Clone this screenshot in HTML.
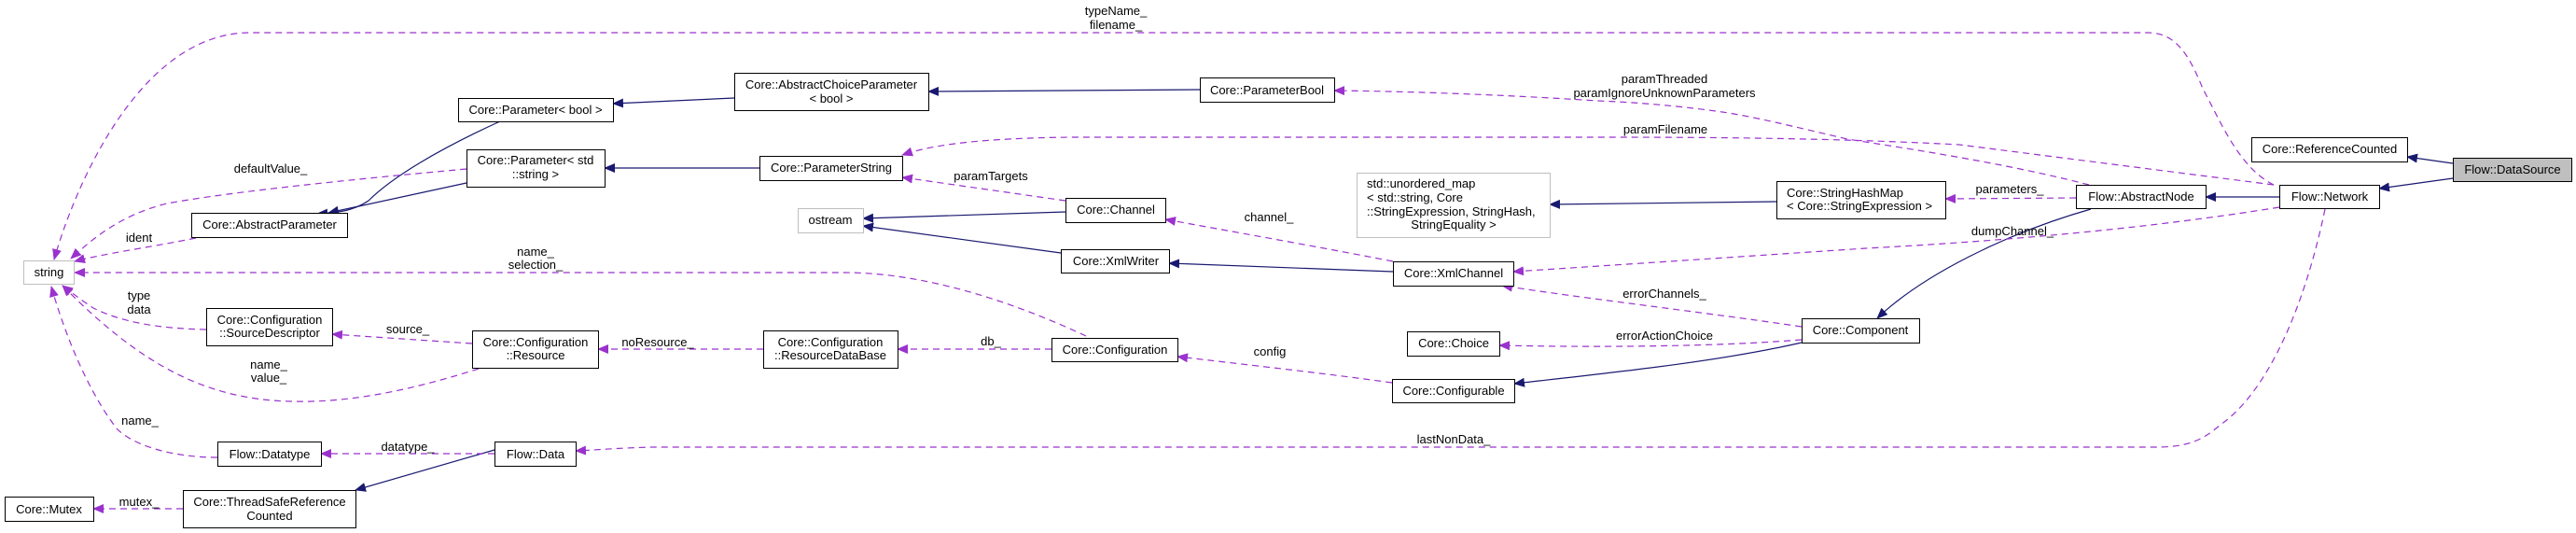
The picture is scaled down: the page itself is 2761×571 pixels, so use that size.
<!DOCTYPE html>
<html><head><meta charset="utf-8"><style>
html,body{margin:0;padding:0;background:#fff;}
svg{display:block;}
text{font-family:"Liberation Sans",sans-serif;font-size:13px;fill:#000;}
.b{fill:#fff;stroke:#000;stroke-width:1;}
.g{fill:#fff;stroke:#bfbfbf;stroke-width:1;}
.s{fill:none;stroke:#191970;stroke-width:1.2;}
.d{fill:none;stroke:#9a32cd;stroke-width:1.2;stroke-dasharray:7,5;}
</style></head><body>
<svg width="2761" height="571" viewBox="0 0 2761 571" xmlns="http://www.w3.org/2000/svg">
<defs>
<marker id="ms" markerWidth="12" markerHeight="10" refX="11" refY="5" orient="auto" markerUnits="userSpaceOnUse"><path d="M0,0 L12,5 L0,10 z" fill="#191970"/></marker>
<marker id="md" markerWidth="12" markerHeight="10" refX="11" refY="5" orient="auto" markerUnits="userSpaceOnUse"><path d="M0,0 L12,5 L0,10 z" fill="#9a32cd"/></marker>
</defs>

<!-- solid inheritance edges -->
<g class="s">
<path d="M536,130 C470,160 420,190 395,215 C380,225 365,228 340,229" marker-end="url(#ms)"/>
<path d="M500,196 L352,228" marker-end="url(#ms)"/>
<path d="M787,105 L657,111" marker-end="url(#ms)"/>
<path d="M1286,96 L995,98" marker-end="url(#ms)"/>
<path d="M814,180 L648,180" marker-end="url(#ms)"/>
<path d="M1142,227 L925,234" marker-end="url(#ms)"/>
<path d="M1137,271 L925,242" marker-end="url(#ms)"/>
<path d="M1493,291 L1253,282" marker-end="url(#ms)"/>
<path d="M1904,216 L1661,219" marker-end="url(#ms)"/>
<path d="M1931,367 C1840,388 1720,400 1623,411" marker-end="url(#ms)"/>
<path d="M2241,224 C2150,250 2060,295 2012,341" marker-end="url(#ms)"/>
<path d="M2443,211 L2364,211" marker-end="url(#ms)"/>
<path d="M2629,175 L2580,168" marker-end="url(#ms)"/>
<path d="M2629,191 L2550,202" marker-end="url(#ms)"/>
<path d="M530,482 L381,525" marker-end="url(#ms)"/>
</g>

<!-- dashed usage edges -->
<g class="d">
<path d="M500,181 C380,192 250,205 179,218 C130,230 100,255 76,277" marker-end="url(#md)"/>
<path d="M210,255 C160,265 110,272 80,280" marker-end="url(#md)"/>
<path d="M1164,360 C1100,330 1000,292 905,292 L80,292" marker-end="url(#md)"/>
<path d="M2437,198 C2400,180 2380,130 2361,95 C2345,55 2330,35 2302,35 L268,35 C150,35 80,200 58,278" marker-end="url(#md)"/>
<path d="M221,353 C170,352 130,345 100,330 C85,320 75,312 67,306" marker-end="url(#md)"/>
<path d="M513,395 C450,415 380,432 312,430 C220,428 150,390 67,306" marker-end="url(#md)"/>
<path d="M233,490 C180,490 140,475 125,459 C95,420 70,360 55,307" marker-end="url(#md)"/>
<path d="M506,368 L356,358" marker-end="url(#md)"/>
<path d="M818,374 L641,374" marker-end="url(#md)"/>
<path d="M1127,374 L962,374" marker-end="url(#md)"/>
<path d="M530,486 L344,486" marker-end="url(#md)"/>
<path d="M196,545 L100,545" marker-end="url(#md)"/>
<path d="M1142,215 L967,190" marker-end="url(#md)"/>
<path d="M2437,198 L2100,155 C1950,147 1800,147 1700,147 L1150,147 C1050,148 1000,155 967,166" marker-end="url(#md)"/>
<path d="M2239,198 C2150,175 2050,160 1980,149 C1920,135 1880,125 1846,120 C1790,112 1740,109 1712,108 C1620,102 1520,98 1430,97" marker-end="url(#md)"/>
<path d="M2225,212 L2085,213" marker-end="url(#md)"/>
<path d="M2443,222 C2300,245 2150,258 2000,266 C1850,276 1700,286 1622,291" marker-end="url(#md)"/>
<path d="M1931,350 C1830,335 1700,320 1610,306" marker-end="url(#md)"/>
<path d="M1931,364 C1830,372 1700,372 1607,370" marker-end="url(#md)"/>
<path d="M1492,410 C1420,400 1330,390 1262,382" marker-end="url(#md)"/>
<path d="M1493,280 C1400,262 1320,248 1249,235" marker-end="url(#md)"/>
<path d="M2492,224 C2470,330 2430,420 2380,455 C2360,472 2345,479 2310,479 L700,479 C660,480 640,482 617,483" marker-end="url(#md)"/>
</g>

<!-- nodes -->
<rect class="g" x="25.5" y="279.5" width="54" height="25"/><text x="52.5" y="296" text-anchor="middle">string</text>
<rect class="b" x="491.5" y="105.5" width="166" height="25"/><text x="574" y="122" text-anchor="middle">Core::Parameter&lt; bool &gt;</text>
<rect class="b" x="500.5" y="160.5" width="148" height="40"/><text x="574" y="176" text-anchor="middle">Core::Parameter&lt; std</text><text x="574" y="191" text-anchor="middle">::string &gt;</text>
<rect class="b" x="205.5" y="228.5" width="167" height="26"/><text x="289" y="245" text-anchor="middle">Core::AbstractParameter</text>
<rect class="b" x="221.5" y="330.5" width="135" height="40"/><text x="289" y="347" text-anchor="middle">Core::Configuration</text><text x="289" y="361" text-anchor="middle">::SourceDescriptor</text>
<rect class="b" x="506.5" y="354.5" width="135" height="40"/><text x="574" y="371" text-anchor="middle">Core::Configuration</text><text x="574" y="385" text-anchor="middle">::Resource</text>
<rect class="b" x="233.5" y="473.5" width="111" height="26"/><text x="289" y="491" text-anchor="middle">Flow::Datatype</text>
<rect class="b" x="530.5" y="473.5" width="87" height="26"/><text x="574" y="491" text-anchor="middle">Flow::Data</text>
<rect class="b" x="196.5" y="525.5" width="185" height="40"/><text x="289" y="542" text-anchor="middle">Core::ThreadSafeReference</text><text x="289" y="557" text-anchor="middle">Counted</text>
<rect class="b" x="5.5" y="532.5" width="95" height="26"/><text x="52.5" y="550" text-anchor="middle">Core::Mutex</text>
<rect class="b" x="787.5" y="78.5" width="208" height="40"/><text x="891" y="95" text-anchor="middle">Core::AbstractChoiceParameter</text><text x="891" y="110" text-anchor="middle">&lt; bool &gt;</text>
<rect class="b" x="1286.5" y="83.5" width="144" height="26"/><text x="1358" y="101" text-anchor="middle">Core::ParameterBool</text>
<rect class="b" x="814.5" y="167.5" width="153" height="26"/><text x="891" y="184" text-anchor="middle">Core::ParameterString</text>
<rect class="g" x="855.5" y="223.5" width="70" height="26"/><text x="890" y="240" text-anchor="middle">ostream</text>
<rect class="b" x="1142.5" y="212.5" width="107" height="26"/><text x="1196" y="229" text-anchor="middle">Core::Channel</text>
<rect class="b" x="1137.5" y="267.5" width="116" height="25"/><text x="1196" y="284" text-anchor="middle">Core::XmlWriter</text>
<rect class="b" x="818.5" y="354.5" width="144" height="40"/><text x="890" y="371" text-anchor="middle">Core::Configuration</text><text x="890" y="385" text-anchor="middle">::ResourceDataBase</text>
<rect class="b" x="1127.5" y="362.5" width="135" height="25"/><text x="1195" y="379" text-anchor="middle">Core::Configuration</text>
<rect class="g" x="1454.5" y="185.5" width="207" height="69"/>
<text x="1465" y="201">std::unordered_map</text><text x="1465" y="216">&lt; std::string, Core</text><text x="1465" y="231">::StringExpression, StringHash,</text><text x="1558" y="245" text-anchor="middle">StringEquality &gt;</text>
<rect class="b" x="1904.5" y="194.5" width="181" height="40"/><text x="1915" y="211">Core::StringHashMap</text><text x="1915" y="225">&lt; Core::StringExpression &gt;</text>
<rect class="b" x="1493.5" y="280.5" width="129" height="26"/><text x="1558" y="297" text-anchor="middle">Core::XmlChannel</text>
<rect class="b" x="1931.5" y="341.5" width="126" height="26"/><text x="1994" y="358" text-anchor="middle">Core::Component</text>
<rect class="b" x="1508.5" y="355.5" width="99" height="26"/><text x="1558" y="372" text-anchor="middle">Core::Choice</text>
<rect class="b" x="1492.5" y="406.5" width="131" height="25"/><text x="1558" y="423" text-anchor="middle">Core::Configurable</text>
<rect class="b" x="2413.5" y="147.5" width="167" height="26"/><text x="2497" y="164" text-anchor="middle">Core::ReferenceCounted</text>
<rect x="2629.5" y="169.5" width="127" height="25" fill="#bfbfbf" stroke="#000"/><text x="2693" y="186" text-anchor="middle">Flow::DataSource</text>
<rect class="b" x="2443.5" y="198.5" width="107" height="25"/><text x="2497" y="215" text-anchor="middle">Flow::Network</text>
<rect class="b" x="2225.5" y="198.5" width="139" height="25"/><text x="2295" y="215" text-anchor="middle">Flow::AbstractNode</text>

<!-- edge labels -->
<g text-anchor="middle">
<text x="290" y="185">defaultValue_</text>
<text x="149" y="259">ident</text>
<text x="574" y="274">name_</text><text x="574" y="288">selection_</text>
<text x="149" y="321">type</text><text x="149" y="336">data</text>
<text x="437" y="357">source_</text>
<text x="288" y="395">name_</text><text x="288" y="409">value_</text>
<text x="150" y="455">name_</text>
<text x="437" y="483">datatype_</text>
<text x="149" y="542">mutex_</text>
<text x="705" y="371">noResource_</text>
<text x="1196" y="16">typeName_</text><text x="1196" y="31">filename_</text>
<text x="1062" y="193">paramTargets</text>
<text x="1360" y="237">channel_</text>
<text x="1062" y="370">db_</text>
<text x="1361" y="381">config</text>
<text x="1784" y="89">paramThreaded</text><text x="1784" y="104">paramIgnoreUnknownParameters</text>
<text x="1785" y="143">paramFilename</text>
<text x="1784" y="319">errorChannels_</text>
<text x="1784" y="364">errorActionChoice</text>
<text x="1558" y="475">lastNonData_</text>
<text x="2154" y="207">parameters_</text>
<text x="2157" y="252">dumpChannel_</text>
</g>
</svg>
</body></html>
